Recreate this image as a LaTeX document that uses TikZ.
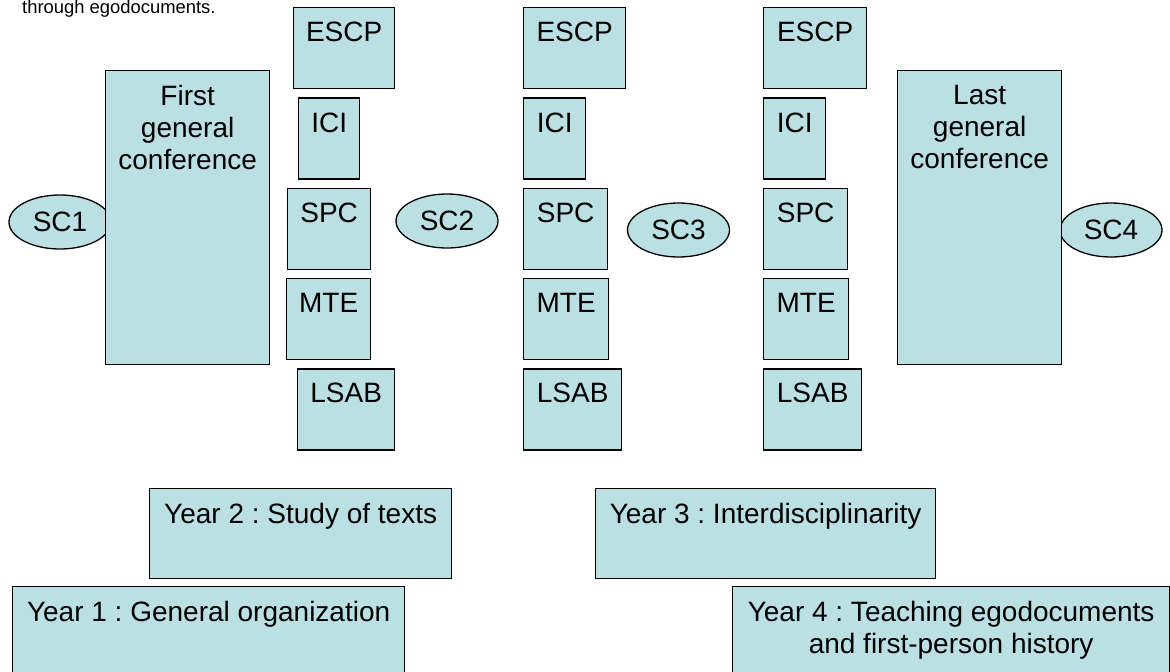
\documentclass[tikz,border=0pt]{standalone}
\usepackage{fontspec}
\setmainfont{Liberation Sans}
\usetikzlibrary{positioning,shapes.geometric}
\frenchspacing

\definecolor{boxfill}{RGB}{187,224,227}
\tikzset{
  cbox/.style={draw, fill=boxfill, line width=1.3pt, inner sep=0pt, anchor=north west},
  lbl/.style={anchor=north, inner sep=0pt, yshift=-15pt, align=center, font=\fontsize{28}{32}\selectfont},
  sc/.style={ellipse, draw, fill=boxfill, line width=1.3pt, inner sep=0pt,
    minimum width=102, minimum height=54, font=\fontsize{28}{32}\selectfont}
}

\begin{document}
\begin{tikzpicture}[x=1pt,y=-1pt]
\useasboundingbox (0,0) rectangle (1170,672);

\node[anchor=base west, inner sep=0pt, font=\fontsize{18.4}{22}\selectfont] (note) at (22,13) {through egodocuments.};

% steering committees
\node[sc] (SC1) at (60,222) {SC1};
\node[sc] (SC2) at (447,221) {SC2};
\node[sc] (SC3) at (678.5,230) {SC3};
\node[sc] (SC4) at (1111,230) {SC4};

% general conferences
\node[cbox, minimum width=164, minimum height=294, label={[lbl]north:First\\general\\conference}] (FGC) at (105,70) {};
\node[cbox, minimum width=164, minimum height=294, label={[lbl]north:Last\\general\\conference}] (LGC) at (897,70) {};

% first column
\node[cbox, minimum width=101, minimum height=81, label={[lbl]north:ESCP}] (ESCP1) at (293,7) {};
\node[cbox, minimum width=61, minimum height=81, label={[lbl]north:ICI}, below right=8pt and 5pt of ESCP1.south west] (ICI1) {};
\node[cbox, minimum width=83, minimum height=81, label={[lbl]north:SPC}, below right=8pt and -11pt of ICI1.south west] (SPC1) {};
\node[cbox, minimum width=84, minimum height=81, label={[lbl]north:MTE}, below right=8pt and -1pt of SPC1.south west] (MTE1) {};
\node[cbox, minimum width=97, minimum height=81, label={[lbl]north:LSAB}, below right=8pt and 11pt of MTE1.south west] (LSAB1) {};

% second column
\node[cbox, minimum width=102, minimum height=81, label={[lbl]north:ESCP}] (ESCP2) at (523,7) {};
\node[cbox, minimum width=62, minimum height=81, label={[lbl]north:ICI}, below right=8pt and 0pt of ESCP2.south west] (ICI2) {};
\node[cbox, minimum width=84, minimum height=81, label={[lbl]north:SPC}, below right=8pt and 0pt of ICI2.south west] (SPC2) {};
\node[cbox, minimum width=85, minimum height=81, label={[lbl]north:MTE}, below right=8pt and 0pt of SPC2.south west] (MTE2) {};
\node[cbox, minimum width=98, minimum height=81, label={[lbl]north:LSAB}, below right=8pt and 0pt of MTE2.south west] (LSAB2) {};

% third column
\node[cbox, minimum width=103, minimum height=81, label={[lbl]north:ESCP}] (ESCP3) at (763,7) {};
\node[cbox, minimum width=62, minimum height=81, label={[lbl]north:ICI}, below right=8pt and 0pt of ESCP3.south west] (ICI3) {};
\node[cbox, minimum width=84, minimum height=81, label={[lbl]north:SPC}, below right=8pt and 0pt of ICI3.south west] (SPC3) {};
\node[cbox, minimum width=85, minimum height=81, label={[lbl]north:MTE}, below right=8pt and 0pt of SPC3.south west] (MTE3) {};
\node[cbox, minimum width=98, minimum height=81, label={[lbl]north:LSAB}, below right=8pt and 0pt of MTE3.south west] (LSAB3) {};

% years
\node[cbox, minimum width=302, minimum height=90, label={[lbl]north:Year 2 : Study of texts}] (Y2) at (149,488) {};
\node[cbox, minimum width=340, minimum height=90, label={[lbl]north:Year 3 : Interdisciplinarity}] (Y3) at (595,488) {};
\node[cbox, minimum width=392, minimum height=110, label={[lbl]north:Year 1 : General organization}] (Y1) at (12,586) {};
\node[cbox, minimum width=437, minimum height=110, label={[lbl]north:Year 4 : Teaching egodocuments\\and first-person history}] (Y4) at (732,586) {};

\end{tikzpicture}
\end{document}
